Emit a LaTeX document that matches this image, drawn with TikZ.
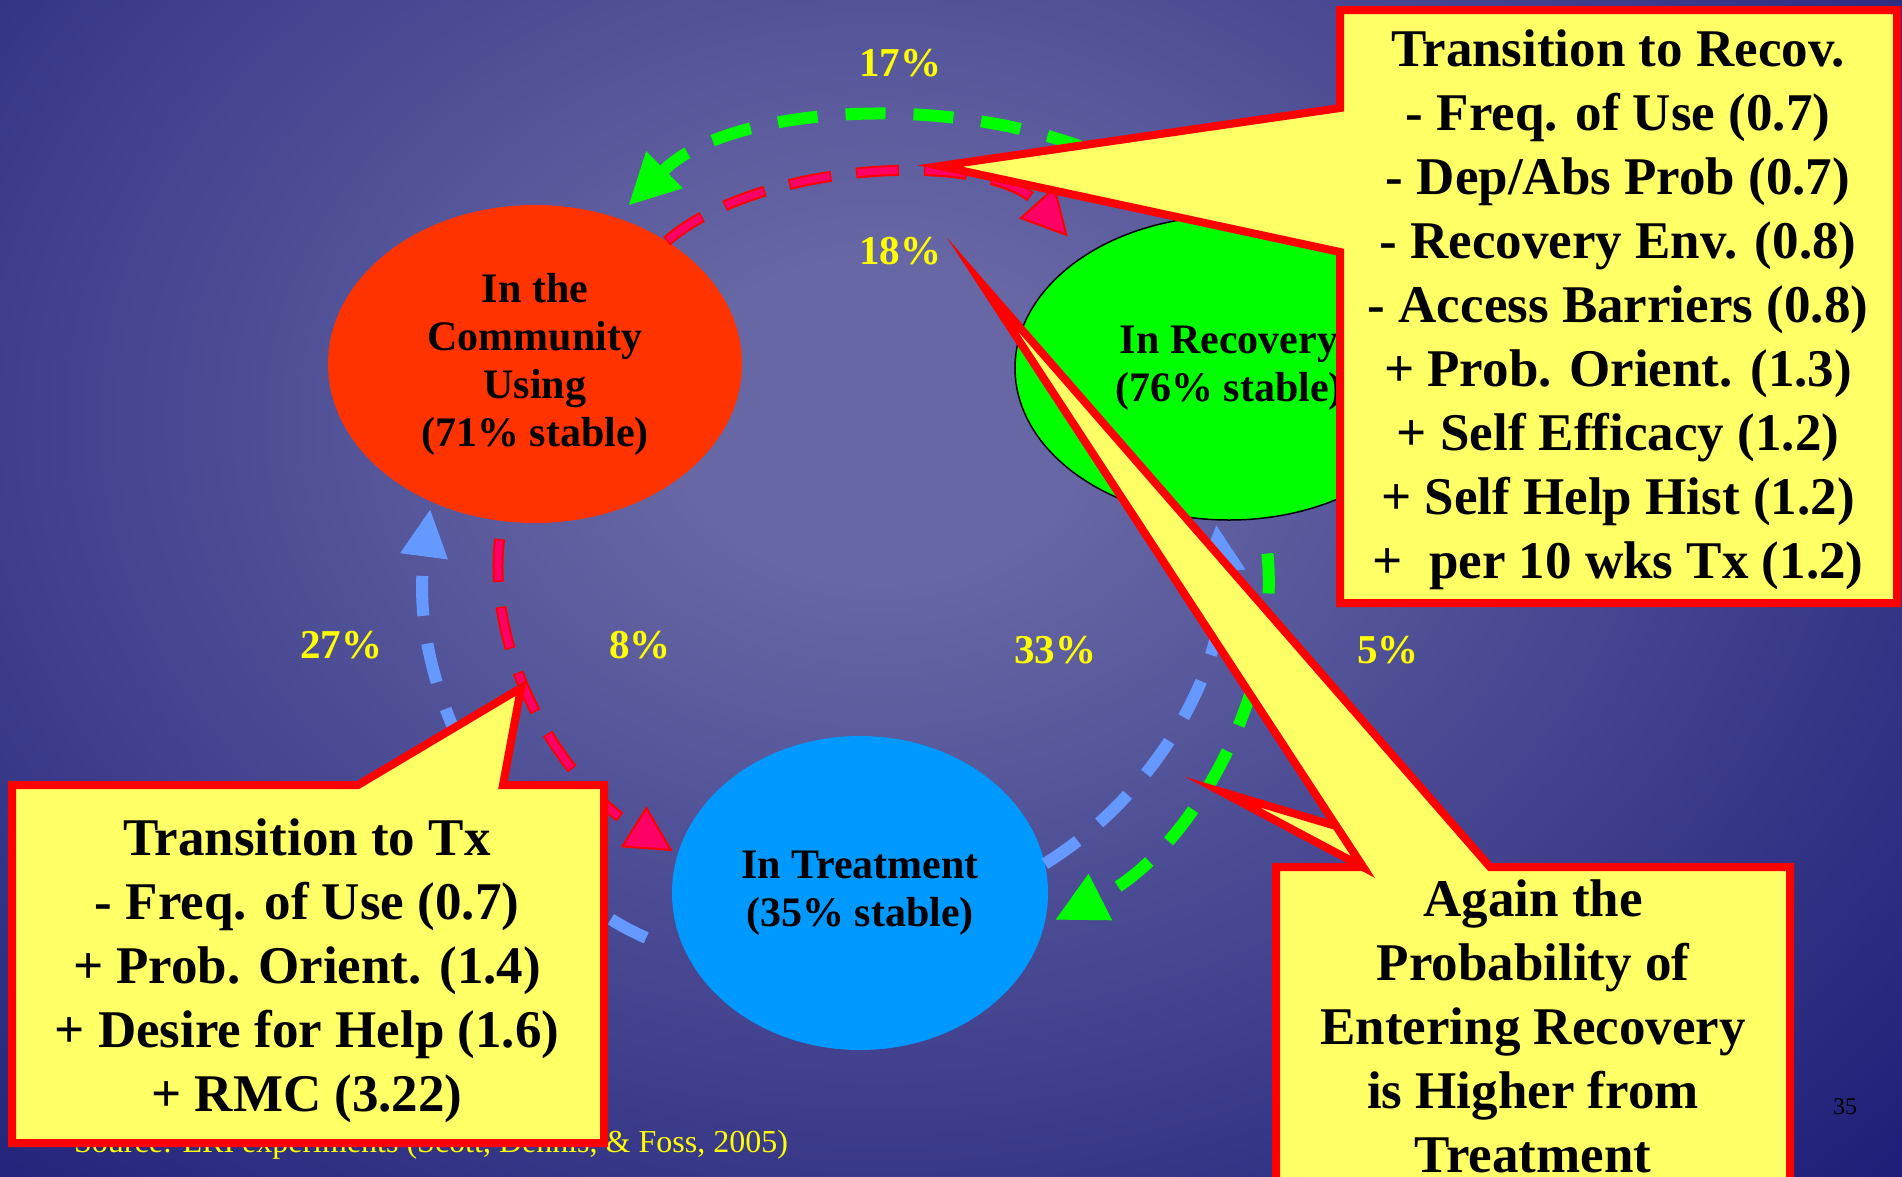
\documentclass[tikz,border=0pt]{standalone}
\usepackage{fontspec}
\setmainfont{Liberation Serif}
\usetikzlibrary{shapes.geometric,arrows.meta,positioning}

\definecolor{bglight}{HTML}{6767A5}
\definecolor{bgdark}{HTML}{000066}
\definecolor{usingfill}{HTML}{FF3300}
\definecolor{recovfill}{HTML}{00FF00}
\definecolor{treatfill}{HTML}{0099FF}
\definecolor{noteyellow}{HTML}{FFFF66}
\definecolor{notered}{HTML}{FF0000}
\definecolor{flowpink}{HTML}{FF0066}
\definecolor{flowblue}{HTML}{6699FF}
\definecolor{flowgreen}{HTML}{00FF00}
\definecolor{rateyellow}{HTML}{FFFF00}

\pgfdeclareradialshading{slideglow}{\pgfpoint{0bp}{0bp}}{color(0bp)=(bglight); color(5bp)=(bglight); color(46bp)=(bgdark); color(50bp)=(bgdark)}

\newcommand{\statefont}{\fontsize{42}{48}\selectfont\bfseries}
\newcommand{\notefont}{\fontsize{53}{64}\selectfont\bfseries}
\newcommand{\ratefont}{\fontsize{41}{48}\selectfont\bfseries}

\begin{document}
\begin{tikzpicture}[x=1pt, y=-1pt,
    state/.style={ellipse, inner sep=0pt, align=center, font=\statefont},
    note/.style={inner sep=0pt, align=center, font=\notefont},
    rate/.style={text=rateyellow, font=\ratefont},
    callout/.style={fill=noteyellow, draw=notered, line width=8pt, miter limit=20},
    flow/.style={line width=12pt, dash pattern=on 40pt off 28pt},
    greenflow/.style={flow, draw=flowgreen, -{Triangle[length=50pt,width=52pt,line width'=1pt]}},
    blueflow/.style={flow, draw=flowblue, -{Triangle[length=47pt,width=48pt,line width'=1pt]}},
    pinkrim/.style={draw=notered, line width=11pt, dash pattern=on 43pt off 25pt},
    pinkflow/.style={draw=flowpink, line width=7pt, dash pattern=on 40pt off 28pt, dash phase=66.5pt,
        -{Triangle[length=46pt,width=48pt,fill=flowpink,color=notered,line width'=2pt]}}]
    \useasboundingbox (0,0) rectangle (1902,1176);
    \begin{scope}
        \clip (0,0) rectangle (1902,1176);
        \shade[shading=slideglow] (-162,-380) rectangle (1922,1220);
    \end{scope}

    \node[state, fill=usingfill, minimum width=414pt, minimum height=318pt] (com) at (535,364) {In the\\Community\\Using\\(71\% stable)};
    \node[state, fill=recovfill, draw=black, line width=1.5pt, minimum width=428pt, minimum height=304pt] (rec) at (1229,368) {In Recovery\\(76\% stable)};
    \node[state, fill=treatfill, minimum width=376pt, minimum height=314pt] (trt) at (860,893) {In Treatment\\(35\% stable)};

    \draw[greenflow, shorten >=18pt] (rec.100) .. controls (1050,80) and (740,95) .. (com.61);
    \draw[pinkrim, shorten >=69pt] (com.43) .. controls (760,160) and (990,150) .. (rec.142);
    \draw[pinkflow, shorten >=25pt] (com.43) .. controls (760,160) and (990,150) .. (rec.142);
    \draw[blueflow, shorten <=45pt, shorten >=8pt] (trt.200) .. controls (511,879) and (406,694) .. (com.233);
    \draw[pinkrim, shorten <=18pt, shorten >=50pt] (com.258) .. controls (486,657) and (562,782) .. (trt.168);
    \draw[pinkflow, shorten <=18pt, shorten >=6pt] (com.258) .. controls (486,657) and (562,782) .. (trt.168);
    \draw[blueflow, shorten >=5pt] (trt.9) .. controls (1162,791) and (1231,657) .. (rec.265);
    \draw[greenflow, shorten <=35pt, shorten >=13pt] (rec.283) .. controls (1281,686) and (1195,849) .. (trt.350);

    \node[rate] (r17) at (900,63) {17\%};
    \node[rate] (r18) at (900,251) {18\%};
    \node[rate] (r27) at (341,645) {27\%};
    \node[rate] (r8) at (640,645) {8\%};
    \node[rate] (r33) at (1055,650) {33\%};
    \node[rate] (r5) at (1388,650) {5\%};

    \node[anchor=base west, inner sep=0pt, text=rateyellow, font=\fontsize{32}{38}\selectfont] (source) at (74,1152) {Source: ERI experiments (Scott, Dennis, \& Foss, 2005)};
    \node[font=\fontsize{24}{28}\selectfont] (pageno) at (1845,1107) {35};

    \filldraw[callout] (1340,10) -- (1897,10) -- (1897,603) -- (1340,603) -- (1340,252) -- (940,166) -- (1340,108) -- cycle;
    \node[note] (recnote) at (1618,310) {Transition to Recov.\\- Freq. of Use (0.7)\\- Dep/Abs Prob (0.7)\\- Recovery Env. (0.8)\\- Access Barriers (0.8)\\+ Prob. Orient. (1.3)\\+ Self Efficacy (1.2)\\+ Self Help Hist (1.2)\\+~ per 10 wks Tx (1.2)};

    \filldraw[callout] (12,785) -- (358,785) -- (521,688) -- (503,785) -- (604,785) -- (604,1143) -- (12,1143) -- cycle;
    \node[note] (txnote) at (307,971) {Transition to Tx\\- Freq. of Use (0.7)\\+ Prob. Orient. (1.4)\\+ Desire for Help (1.6)\\+ RMC (3.22)};

    \filldraw[callout] (1276,867) -- (1363,867) -- (982,284) -- (1490,867) -- (1790,867) -- (1790,1190) -- (1276,1190) -- cycle;
    \filldraw[callout] (1363,867) -- (1222,792) -- (1336,826) -- cycle;
    \node[note] (againnote) at (1533,1026) {Again the\\Probability of\\Entering Recovery\\is Higher from\\Treatment};
\end{tikzpicture}
\end{document}
